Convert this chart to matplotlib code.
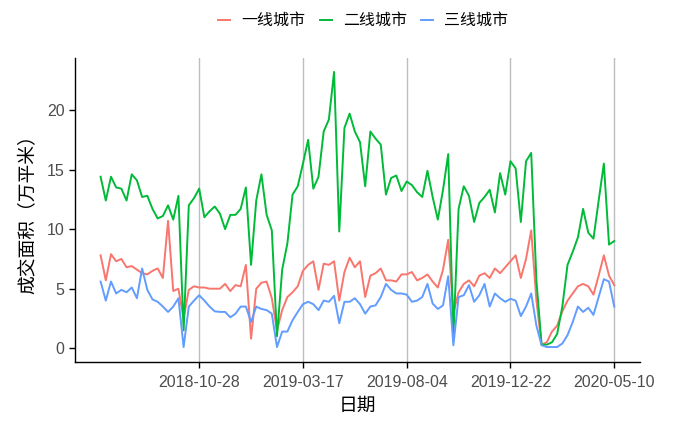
import numpy as np
import pandas as pd
import matplotlib
matplotlib.use("Agg")
import matplotlib.pyplot as plt
import matplotlib.dates as mdates

plt.rcParams['font.family'] = ['Liberation Sans', 'Noto Sans CJK SC', 'DejaVu Sans']

dates = pd.date_range("2018-06-17", periods=100, freq="7D")

tier1 = [7.8, 5.7, 7.9, 7.3, 7.5, 6.8, 6.9, 6.6, 6.3, 6.2,
         6.5, 6.7, 5.9, 10.7, 4.8, 5.0, 2.5, 4.9, 5.2, 5.1,
         5.1, 5.0, 5.0, 5.0, 5.4, 4.8, 5.3, 5.2, 7.0, 0.8,
         5.0, 5.5, 5.6, 4.2, 1.5, 3.2, 4.3, 4.7, 5.2, 6.5,
         7.0, 7.3, 4.9, 7.1, 7.0, 7.3, 4.0, 6.4, 7.6, 6.8,
         7.3, 4.3, 6.1, 6.3, 6.7, 5.7, 5.7, 5.6, 6.2, 6.2,
         6.4, 5.7, 5.9, 6.2, 5.6, 5.1, 6.6, 9.1, 3.0, 4.7,
         5.4, 5.7, 5.2, 6.1, 6.3, 5.9, 6.7, 6.3, 6.8, 7.3,
         7.8, 5.9, 7.5, 9.9, 4.0, 0.3, 0.5, 1.4, 1.9, 3.1,
         4.0, 4.6, 5.2, 5.4, 5.2, 4.5, 6.1, 7.8, 6.1, 5.3]

tier2 = [14.4, 12.4, 14.4, 13.5, 13.4, 12.4, 14.6, 14.1, 12.7, 12.8,
         11.7, 10.9, 11.1, 12.0, 10.8, 12.8, 1.5, 12.0, 12.6, 13.4,
         11.0, 11.5, 11.9, 11.3, 10.0, 11.2, 11.2, 11.7, 13.5, 7.0,
         12.4, 14.6, 11.2, 9.9, 1.0, 6.6, 8.8, 12.9, 13.6, 15.5,
         17.5, 13.4, 14.4, 18.2, 19.2, 23.2, 9.8, 18.5, 19.7, 18.2,
         17.3, 13.6, 18.2, 17.6, 17.1, 12.9, 14.3, 14.5, 13.2, 14.0,
         13.7, 13.1, 12.7, 14.9, 12.7, 10.8, 13.3, 16.3, 1.0, 11.7,
         13.6, 12.8, 10.6, 12.2, 12.7, 13.3, 11.4, 14.7, 12.9, 15.7,
         15.1, 10.6, 15.7, 16.4, 5.7, 0.3, 0.3, 0.5, 1.2, 3.5,
         7.0, 8.1, 9.3, 11.7, 9.7, 9.2, 12.4, 15.5, 8.7, 9.0]

tier3 = [5.6, 4.0, 5.6, 4.6, 4.9, 4.7, 5.1, 4.2, 6.7, 4.9,
         4.1, 3.9, 3.5, 3.05, 3.5, 4.2, 0.1, 3.5, 4.0, 4.45,
         4.0, 3.5, 3.1, 3.05, 3.05, 2.6, 2.9, 3.5, 3.5, 2.2,
         3.5, 3.3, 3.2, 2.9, 0.1, 1.4, 1.4, 2.35, 3.05, 3.7,
         3.9, 3.7, 3.2, 4.0, 3.9, 4.4, 2.1, 3.9, 3.9, 4.2,
         3.7, 2.9, 3.5, 3.6, 4.3, 5.4, 4.9, 4.6, 4.6, 4.5,
         3.9, 4.0, 4.3, 5.4, 3.75, 3.3, 3.6, 6.05, 0.25, 4.3,
         4.45, 5.3, 3.9, 4.45, 5.4, 3.5, 4.6, 4.2, 3.9, 4.15,
         4.0, 2.7, 3.5, 4.6, 1.9, 0.25, 0.1, 0.1, 0.1, 0.4,
         1.1, 2.2, 3.5, 3.05, 3.4, 2.8, 4.3, 5.8, 5.6, 3.5]

names = ["一线城市", "二线城市", "三线城市"]
colors = ["#F8766D", "#00BA38", "#619CFF"]
tick_dates = ["2018-10-28", "2019-03-17", "2019-08-04", "2019-12-22", "2020-05-10"]

fig = plt.figure(figsize=(6.75, 4.21), dpi=100)
ax = fig.add_axes([0.111, 0.140, 0.837, 0.722])

for s, name, c in zip([tier1, tier2, tier3], names, colors):
    ax.plot(dates, s, color=c, lw=1.4, label=name)

# x range with 5% padding like ggplot
span = dates[-1] - dates[0]
ax.set_xlim(dates[0] - span * 0.05, dates[-1] + span * 0.05)
ymax = max(max(tier1), max(tier2), max(tier3))
ax.set_ylim(-ymax * 0.05, ymax * 1.05)

ticks = pd.to_datetime(tick_dates)
ax.set_xticks(ticks)
ax.set_xticklabels(tick_dates)
ax.set_yticks([0, 5, 10, 15, 20])
ax.grid(axis="x", color="#bdbdbd", lw=1.0)
ax.set_axisbelow(True)

for sp in ["top", "right"]:
    ax.spines[sp].set_visible(False)
for sp in ["left", "bottom"]:
    ax.spines[sp].set_linewidth(1.0)
    ax.spines[sp].set_color("black")
ax.tick_params(axis="both", length=4, width=1.0, color="black",
               labelsize=11.5, labelcolor="#4D4D4D")
ax.tick_params(axis="x", pad=5)

ax.set_xlabel("日期", fontsize=13.5, family=["Noto Sans CJK SC"], labelpad=4)
ax.set_ylabel("成交面积（万平米）", fontsize=13.5, family=["Noto Sans CJK SC"], labelpad=6)

fig.legend(loc="upper center", bbox_to_anchor=(0.538, 1.005), ncol=3, frameon=False,
           prop={"family": "Noto Sans CJK SC", "size": 11.5},
           handlelength=0.75, handletextpad=0.7, columnspacing=0.9)

fig.savefig("out.png", dpi=100)
